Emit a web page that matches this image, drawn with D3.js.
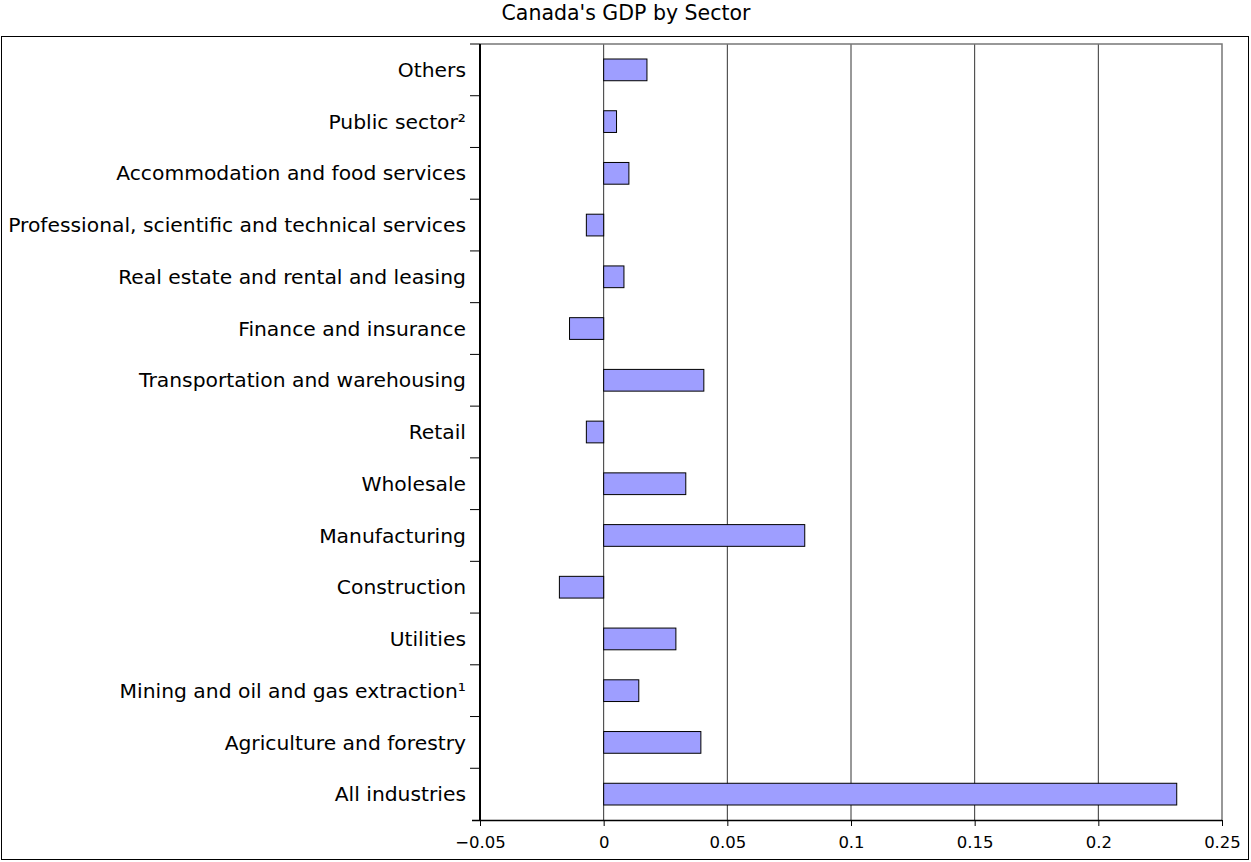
<!DOCTYPE html>
<html><head><meta charset="utf-8">
<script src="https://cdn.jsdelivr.net/npm/d3@7"></script>
<style>body{margin:0;background:#fff;} svg{display:block;font-family:"DejaVu Sans",sans-serif;}</style>
</head><body>
<script>
const categories = ["Others","Public sector²","Accommodation and food services","Professional, scientific and technical services","Real estate and rental and leasing","Finance and insurance","Transportation and warehousing","Retail","Wholesale","Manufacturing","Construction","Utilities","Mining and oil and gas extraction¹","Agriculture and forestry","All industries"];
const values = [0.0175,0.0052,0.0102,-0.0070,0.0082,-0.0138,0.0405,-0.0070,0.0332,0.0813,-0.0179,0.0292,0.0142,0.0393,0.2317];
const xTicks = [-0.05,0,0.05,0.1,0.15,0.2,0.25];
const title = "Canada's GDP by Sector";

const W = 1251, H = 862;
const m = {left:480, right:1222, top:44, bottom:820};
const svg = d3.select("body").append("svg").attr("width",W).attr("height",H);
svg.append("rect").attr("x",1.5).attr("y",36.5).attr("width",1247).attr("height",823).attr("fill","none").attr("stroke","#000").attr("stroke-width",1);
svg.append("text").attr("x",626).attr("y",20).attr("text-anchor","middle").attr("font-size",20.5).text(title);

const x = d3.scaleLinear().domain([-0.05,0.25]).range([m.left,m.right]);
const y = d3.scaleBand().domain(categories).range([m.top,m.bottom]).paddingInner(0.58).paddingOuter(0.29);
const yb = d3.scaleBand().domain(categories).range([m.top,m.bottom]);

// gridlines
svg.append("g").selectAll("line").data(xTicks.slice(1,-1)).join("line")
  .attr("x1",d=>x(d)).attr("x2",d=>x(d)).attr("y1",m.top).attr("y2",m.bottom)
  .attr("stroke","#333").attr("stroke-width",1);
// plot frame top/right
svg.append("path").attr("d",`M${m.left},${m.top}H${m.right}V${m.bottom}`).attr("fill","none").attr("stroke","#777").attr("stroke-width",1.5);

// bars
svg.append("g").selectAll("rect").data(categories).join("rect")
  .attr("x",(d,i)=>x(Math.min(0,values[i])))
  .attr("width",(d,i)=>Math.abs(x(values[i])-x(0)))
  .attr("y",d=>y(d)).attr("height",y.bandwidth())
  .attr("fill","#9e9eff").attr("stroke","#000").attr("stroke-width",1);

// x axis
const xa = svg.append("g").attr("transform",`translate(0,${m.bottom})`)
  .call(d3.axisBottom(x).tickValues(xTicks).tickSize(6).tickSizeOuter(0).tickFormat(d3.format("")));
xa.select(".domain").attr("d",`M${m.left-8},0.5H${m.right}`).attr("stroke-width",1.5);
xa.selectAll("text").attr("font-size",16.5).attr("font-family","DejaVu Sans").attr("dy","1.15em").attr("fill","#000");

// y axis
const ya = svg.append("g").attr("transform",`translate(${m.left},0)`);
ya.append("line").attr("x1",0).attr("x2",0).attr("y1",m.top).attr("y2",m.bottom+1).attr("stroke","#000").attr("stroke-width",2);
ya.selectAll("line.tk").data(categories).join("line").attr("class","tk")
  .attr("x1",-10).attr("x2",0).attr("y1",d=>yb(d)).attr("y2",d=>yb(d)).attr("stroke","#000").attr("stroke-width",1);
ya.selectAll("text").data(categories).join("text")
  .attr("x",-14).attr("y",d=>yb(d)+yb.bandwidth()/2).attr("dy","0.35em")
  .attr("text-anchor","end").attr("font-size",20.3).text(d=>d);
</script>
</body></html>
